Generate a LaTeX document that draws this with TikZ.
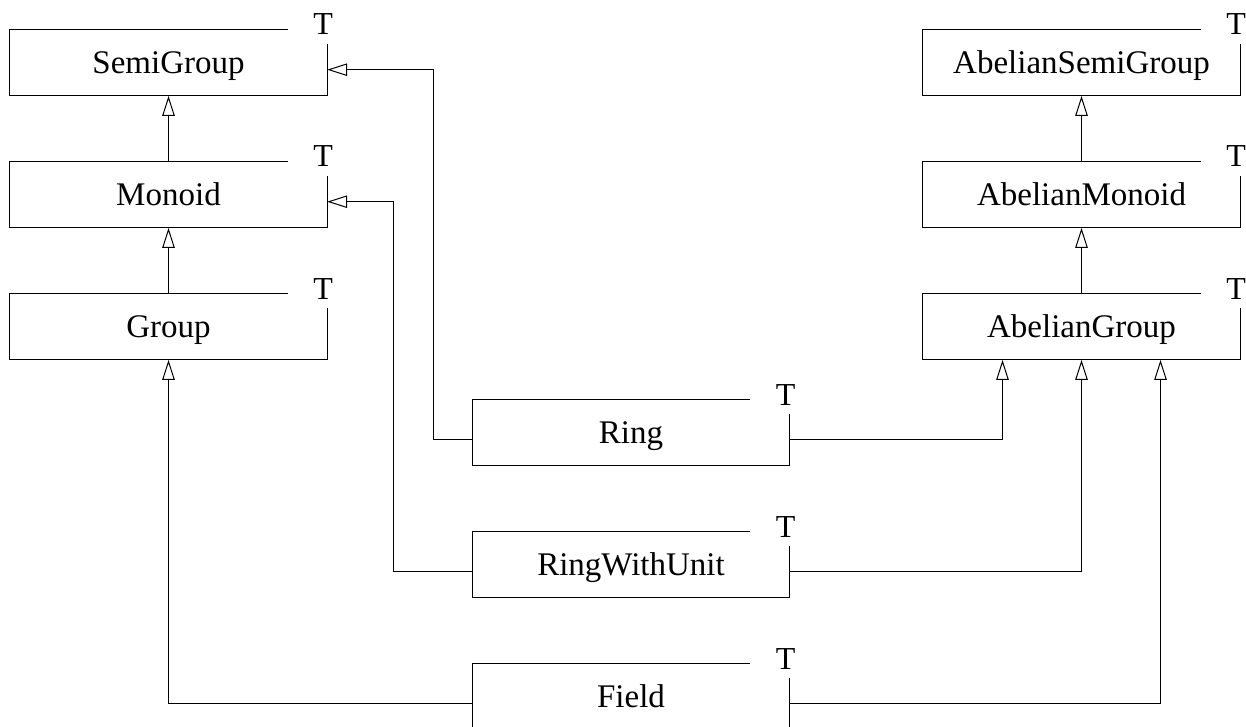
\documentclass[tikz,border=0pt]{standalone}
\usepackage{fontspec}
\setmainfont{Liberation Serif}
\usetikzlibrary{arrows.meta,calc}

% A class box with a template parameter "T" set in its top-right corner
\newcommand\templatebox[3]{%
  \node[classbox] (#1) at (#2) {#3};
  \draw[edge] ([xshift=-40pt]#1.north east) -- (#1.north west)
    -- (#1.south west) -- (#1.south east) -- ([yshift=-15pt]#1.north east);
  \node[tparam] (#1-T) at ([xshift=-4pt,yshift=-5.5pt]#1.north east) {T};
}

\begin{document}
\begin{tikzpicture}[x=1pt,y=-1pt,
  classbox/.style={minimum width=317pt, minimum height=66pt, inner sep=0pt,
    anchor=north, text height=22pt, text depth=0pt,
    font=\fontsize{33}{40}\selectfont},
  edge/.style={line width=1.1pt, line cap=rect},
  inherit/.style={edge, line cap=butt,
    -{Triangle[open, length=20pt, width=12.5pt, fill=white, line width=1pt]}},
  tparam/.style={anchor=base, inner sep=0pt, font=\fontsize{32}{38}\selectfont}]

\clip (0,0) rectangle (1246,727);

% left column
\templatebox{semigroup}{168.5,29.5}{SemiGroup}
\templatebox{monoid}{168.5,161.5}{Monoid}
\templatebox{group}{168.5,293.5}{Group}

% right column
\templatebox{asemigroup}{1081.5,29.5}{AbelianSemiGroup}
\templatebox{amonoid}{1081.5,161.5}{AbelianMonoid}
\templatebox{agroup}{1081.5,293.5}{AbelianGroup}

% middle column
\templatebox{ring}{631,399.5}{Ring}
\templatebox{ringunit}{631,531.5}{RingWithUnit}
\templatebox{field}{631,663.5}{Field}

% generalisations within each column
\draw[inherit] (monoid.north) -- (semigroup.south);
\draw[inherit] (group.north) -- (monoid.south);
\draw[inherit] (amonoid.north) -- (asemigroup.south);
\draw[inherit] (agroup.north) -- (amonoid.south);

% Ring
\draw[inherit] ([yshift=-7pt]ring.west) -- ++(-39,0) |- ([yshift=-7pt]semigroup.east);
\draw[inherit] ([yshift=-7pt]ring.east) -| ([xshift=-79pt]agroup.south);

% RingWithUnit
\draw[inherit] ([yshift=-7pt]ringunit.west) -- ++(-79,0) |- ([yshift=-7pt]monoid.east);
\draw[inherit] ([yshift=-7pt]ringunit.east) -| (agroup.south);

% Field
\draw[inherit] ([yshift=-7pt]field.west) -| (group.south);
\draw[inherit] ([yshift=-7pt]field.east) -| ([xshift=79pt]agroup.south);

\end{tikzpicture}
\end{document}
